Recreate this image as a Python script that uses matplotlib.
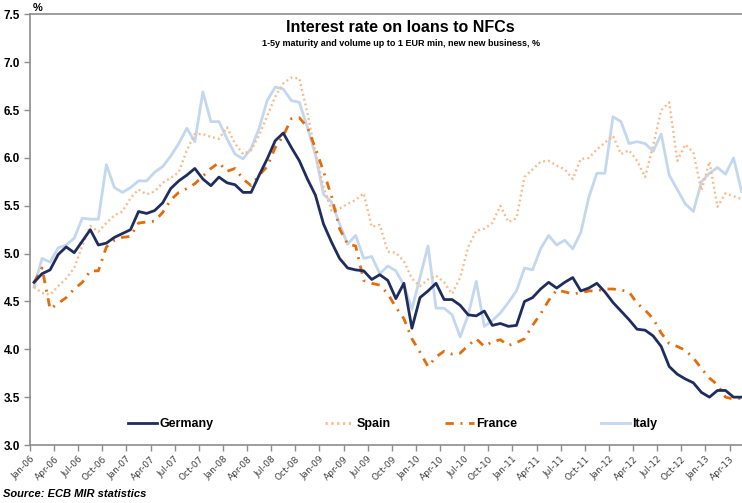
import matplotlib
matplotlib.use("Agg")
import matplotlib.pyplot as plt
import matplotlib.transforms as mtransforms
from matplotlib.lines import Line2D
import pandas as pd

# ================= DATA (monthly, Jan-06 .. May-13) =================
months = pd.date_range("2006-01-01", periods=89, freq="MS").strftime("%b-%y").tolist()

germany = [
    4.70, 4.79, 4.83, 4.99, 5.07, 5.01, 5.13, 5.25, 5.09, 5.11,
    5.17, 5.21, 5.25, 5.44, 5.42, 5.45, 5.53, 5.68, 5.76, 5.82,
    5.89, 5.78, 5.71, 5.80, 5.74, 5.72, 5.64, 5.64, 5.82, 5.99,
    6.18, 6.26, 6.11, 5.97, 5.78, 5.61, 5.31, 5.12, 4.95, 4.85,
    4.83, 4.82, 4.73, 4.78, 4.72, 4.53, 4.69, 4.22, 4.54, 4.61,
    4.69, 4.52, 4.52, 4.46, 4.36, 4.35, 4.40, 4.25, 4.27, 4.24,
    4.25, 4.50, 4.54, 4.63, 4.70, 4.64, 4.70, 4.75, 4.61, 4.64,
    4.69, 4.60, 4.49, 4.40, 4.31, 4.21, 4.20, 4.14, 4.03, 3.82,
    3.74, 3.69, 3.65, 3.55, 3.50, 3.57, 3.57, 3.50, 3.50,
]
spain = [
    4.65, 4.59, 4.57, 4.66, 4.74, 4.85, 5.08, 5.29, 5.23, 5.32,
    5.40, 5.44, 5.58, 5.67, 5.62, 5.65, 5.74, 5.79, 5.85, 6.08,
    6.25, 6.25, 6.22, 6.20, 6.32, 6.15, 6.04, 6.08, 6.24, 6.44,
    6.64, 6.78, 6.84, 6.83, 6.47, 6.05, 5.70, 5.45, 5.47, 5.52,
    5.56, 5.63, 5.28, 5.30, 5.02, 5.01, 4.92, 4.74, 4.66, 4.73,
    4.77, 4.70, 4.58, 4.75, 5.07, 5.24, 5.26, 5.32, 5.50, 5.33,
    5.37, 5.80, 5.88, 5.96, 5.97, 5.92, 5.88, 5.78, 5.99, 6.00,
    6.09, 6.16, 6.23, 6.04, 6.08, 5.97, 5.80, 6.13, 6.50, 6.58,
    5.97, 6.14, 6.06, 5.66, 5.96, 5.49, 5.63, 5.60, 5.57,
]
france = [
    4.70, 4.85, 4.42, 4.48, 4.54, 4.63, 4.70, 4.82, 4.82, 5.07,
    5.14, 5.17, 5.18, 5.32, 5.33, 5.34, 5.43, 5.56, 5.64, 5.68,
    5.73, 5.81, 5.89, 5.95, 5.86, 5.89, 5.78, 5.71, 5.82, 5.91,
    6.11, 6.23, 6.41, 6.42, 6.32, 6.10, 5.86, 5.60, 5.26, 5.10,
    5.08, 4.72, 4.69, 4.67, 4.58, 4.44, 4.32, 4.11, 3.97, 3.82,
    3.92, 3.98, 3.95, 3.96, 4.04, 4.11, 4.03, 4.08, 4.10, 4.04,
    4.07, 4.11, 4.25, 4.37, 4.51, 4.62, 4.60, 4.58, 4.59, 4.61,
    4.61, 4.63, 4.63, 4.62, 4.60, 4.48, 4.41, 4.32, 4.17, 4.06,
    4.03, 3.99, 3.91, 3.80, 3.70, 3.63, 3.50, 3.48, 3.49,
]
italy = [
    4.65, 4.95, 4.91, 5.06, 5.09, 5.16, 5.37, 5.36, 5.36, 5.93,
    5.69, 5.64, 5.69, 5.76, 5.76, 5.85, 5.91, 6.02, 6.15, 6.31,
    6.17, 6.69, 6.38, 6.38, 6.20, 6.04, 5.99, 6.10, 6.31, 6.60,
    6.74, 6.72, 6.60, 6.58, 6.32, 6.03, 5.62, 5.54, 5.31, 5.10,
    5.19, 4.95, 4.97, 4.79, 4.87, 4.82, 4.67, 4.42, 4.75, 5.08,
    4.43, 4.43, 4.36, 4.13, 4.36, 4.71, 4.24, 4.30, 4.38, 4.49,
    4.61, 4.85, 4.83, 5.05, 5.19, 5.09, 5.14, 5.05, 5.22, 5.59,
    5.84, 5.84, 6.43, 6.38, 6.15, 6.17, 6.15, 6.07, 6.25, 5.82,
    5.67, 5.52, 5.44, 5.75, 5.84, 5.90, 5.83, 6.00, 5.65,
]

TITLE = "Interest rate on loans to NFCs"
SUBTITLE = "1-5y maturity and volume up to 1 EUR min, new new business, %"
SOURCE = "Source: ECB MIR statistics"

# ================= STYLE =================
C_GER = "#1F2D5E"
C_ESP = "#F9B98A"
C_FRA = "#E46C0A"
C_ITA = "#C3D7EF"
AXIS_GREY = "#8C8C8C"
BOLD_FONT = ["Liberation Sans Narrow", "Liberation Sans", "DejaVu Sans"]
SPAIN_LS = (0, (0.8, 1.3))
FRANCE_LS = (0, (3.0, 2.4, 0.7, 2.4))

plt.rcParams["font.family"] = ["Liberation Sans", "DejaVu Sans"]

fig = plt.figure(figsize=(7.42, 5.03), dpi=100)
ax = fig.add_axes([30 / 742, 1 - 445 / 503, 1 - 30 / 742, (445 - 14.4) / 503])

x = list(range(len(months)))
ax.plot(x, italy, color=C_ITA, lw=2.0, label="Italy", zorder=2)
ax.plot(x, spain, color=C_ESP, lw=1.7, linestyle=SPAIN_LS, label="Spain", zorder=3)
ax.plot(x, france, color=C_FRA, lw=2.0, linestyle=FRANCE_LS, label="France", zorder=4)
ax.plot(x, germany, color=C_GER, lw=2.0, label="Germany", zorder=5)

ax.set_ylim(3.0, 7.5)
yt = [3.0 + 0.5 * k for k in range(10)]
ax.set_yticks(yt)
ax.set_yticklabels([f"{v:.1f}" for v in yt], fontweight="bold", fontsize=8.5)
ax.set_xlim(-0.5, 88.05)

# quarterly ticks sit between categories, labels hang off them
qpos = list(range(0, len(months), 3))
ax.set_xticks([p - 0.5 for p in qpos])
ax.set_xticklabels([months[p] for p in qpos], rotation=45, ha="right", va="top",
                   rotation_mode="anchor", fontsize=6.5, color="#404040",
                   family="DejaVu Sans")
offset = mtransforms.ScaledTranslation(0.12, -0.01, fig.dpi_scale_trans)
for lab in ax.get_xticklabels():
    lab.set_transform(lab.get_transform() + offset)

ax.tick_params(axis="both", direction="out", length=4, width=1, color=AXIS_GREY)
ax.tick_params(axis="x", pad=3)
ax.tick_params(axis="y", pad=3)
for side in ["left", "bottom", "top"]:
    ax.spines[side].set_color(AXIS_GREY)
    ax.spines[side].set_linewidth(1.2)
ax.spines["right"].set_visible(False)

# legend: four separate single-entry legends, spread like the original
legend_spots = [("Germany", C_GER, "-", 128), ("Spain", C_ESP, SPAIN_LS, 325),
                ("France", C_FRA, FRANCE_LS, 445), ("Italy", C_ITA, "-", 601)]
for name, col, ls, px in legend_spots:
    h = Line2D([], [], color=col, lw=2.0, linestyle=ls)
    fig.legend([h], [name], loc="center left", bbox_to_anchor=(px / 742, 1 - 424 / 503),
               frameon=False, borderpad=0, borderaxespad=0, handlelength=2.3,
               handletextpad=0.2, prop={"weight": "bold", "size": 9})

fig.text(0.54, 1 - 27 / 503, TITLE, ha="center", va="center", fontsize=11.5,
         fontweight="bold", family=BOLD_FONT)
fig.text(0.54, 1 - 43 / 503, SUBTITLE, ha="center", va="center", fontsize=6.5,
         fontweight="bold", family=BOLD_FONT)
fig.text(33 / 742, 1 - 8 / 503, "%", ha="left", va="center", fontsize=8, fontweight="bold")
fig.text(3 / 742, 1 - 494 / 503, SOURCE, ha="left", va="center", fontsize=8,
         fontweight="bold", style="italic")

fig.savefig("out.png", dpi=100)
